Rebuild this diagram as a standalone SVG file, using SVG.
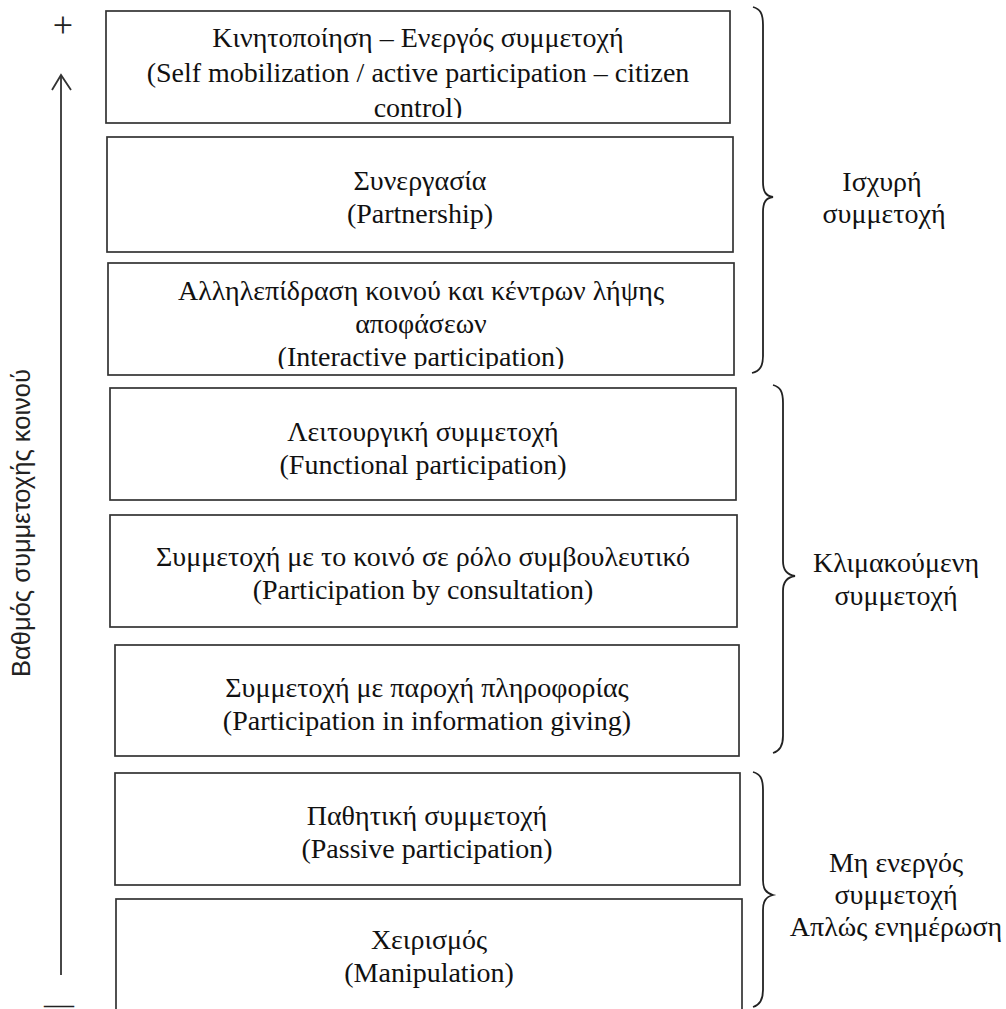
<svg xmlns="http://www.w3.org/2000/svg" width="1006" height="1009" viewBox="0 0 1006 1009">
<style>
.box{fill:#fff;stroke:#333;stroke-width:1.7}
.t{font-family:"Liberation Serif","Noto Serif",serif;font-size:28px;fill:#111;text-anchor:middle}
.side{font-family:"Liberation Serif","Noto Serif",serif;font-size:28px;fill:#111;text-anchor:middle}
.br{fill:none;stroke:#222;stroke-width:1.8}
.ax{fill:none;stroke:#333;stroke-width:1.8}
.sym{font-family:"Liberation Serif","Noto Serif",serif;fill:#222;text-anchor:middle}
</style>
<defs>
<clipPath id="c1"><rect x="108" y="13" width="620" height="105"/></clipPath>
<clipPath id="c3"><rect x="110" y="265" width="622" height="104"/></clipPath>
</defs>
<rect width="1006" height="1009" fill="#fff"/>

<g id="axis">
<text class="sym" x="63" y="37" style="font-size:36px">+</text>
<text class="sym" x="59" y="1014" style="font-size:30px">—</text>
<text transform="translate(30,523) rotate(-90)" style="font-family:'Liberation Sans',Arial,sans-serif;font-size:25.5px;fill:#222;text-anchor:middle">Βαθμός συμμετοχής κοινού</text>
</g>

<g id="connectors">
<line class="ax" x1="61" y1="975" x2="61" y2="76"/>
<polyline class="ax" points="52,90 61,75 71,90"/>
<path class="br" d="M753,7 C760,9 763,13 763,25 L763,182 C763,192 766,196 773,197 C766,198 763,202 763,212 L763,356 C763,366 760,371 752,373"/>
<path class="br" d="M773,385 C780,387 783,391 783,403 L783,561 C783,571 788,575 795,576 C788,577 783,581 783,591 L783,736 C783,746 780,751 773,753"/>
<path class="br" d="M753,772 C760,774 763,778 763,790 L763,880 C763,889 766,893 773,895 C766,897 763,901 763,910 L763,990 C763,1000 760,1005 753,1007"/>
</g>

<g id="n1">
<rect class="box" x="106" y="11" width="624" height="112"/>
<g clip-path="url(#c1)">
<text class="t" x="418" y="47">Κινητοποίηση – Ενεργός συμμετοχή</text>
<text class="t" x="418" y="82">(Self mobilization / active participation – citizen</text>
<text class="t" x="418" y="117">control)</text>
</g>
</g>
<g id="n2">
<rect class="box" x="107" y="137" width="626" height="115"/>
<text class="t" x="420" y="190">Συνεργασία</text>
<text class="t" x="420" y="223">(Partnership)</text>
</g>
<g id="n3">
<rect class="box" x="108" y="263" width="626" height="112"/>
<g clip-path="url(#c3)">
<text class="t" x="421" y="300">Αλληλεπίδραση κοινού και κέντρων λήψης</text>
<text class="t" x="421" y="333">αποφάσεων</text>
<text class="t" x="421" y="366">(Interactive participation)</text>
</g>
</g>
<g id="n4">
<rect class="box" x="110" y="388" width="626" height="112"/>
<text class="t" x="423" y="441">Λειτουργική συμμετοχή</text>
<text class="t" x="423" y="474">(Functional participation)</text>
</g>
<g id="n5">
<rect class="box" x="110" y="515" width="627" height="112"/>
<text class="t" x="423" y="566">Συμμετοχή με το κοινό σε ρόλο συμβουλευτικό</text>
<text class="t" x="423" y="599">(Participation by consultation)</text>
</g>
<g id="n6">
<rect class="box" x="115" y="645" width="624" height="111"/>
<text class="t" x="427" y="697">Συμμετοχή με παροχή πληροφορίας</text>
<text class="t" x="427" y="730">(Participation in information giving)</text>
</g>
<g id="n7">
<rect class="box" x="115" y="773" width="625" height="112"/>
<text class="t" x="427" y="825">Παθητική συμμετοχή</text>
<text class="t" x="427" y="858">(Passive participation)</text>
</g>
<g id="n8">
<rect class="box" x="116" y="899" width="626" height="114"/>
<text class="t" x="429" y="949">Χειρισμός</text>
<text class="t" x="429" y="982">(Manipulation)</text>
</g>

<g id="g1">
<text class="side" x="882" y="191">Ισχυρή</text>
<text class="side" x="884" y="223">συμμετοχή</text>
</g>
<g id="g2">
<text class="side" x="896" y="572">Κλιμακούμενη</text>
<text class="side" x="896" y="605">συμμετοχή</text>
</g>
<g id="g3">
<text class="side" x="896" y="872">Μη ενεργός</text>
<text class="side" x="896" y="904">συμμετοχή</text>
<text class="side" x="896" y="936">Απλώς ενημέρωση</text>
</g>
</svg>
